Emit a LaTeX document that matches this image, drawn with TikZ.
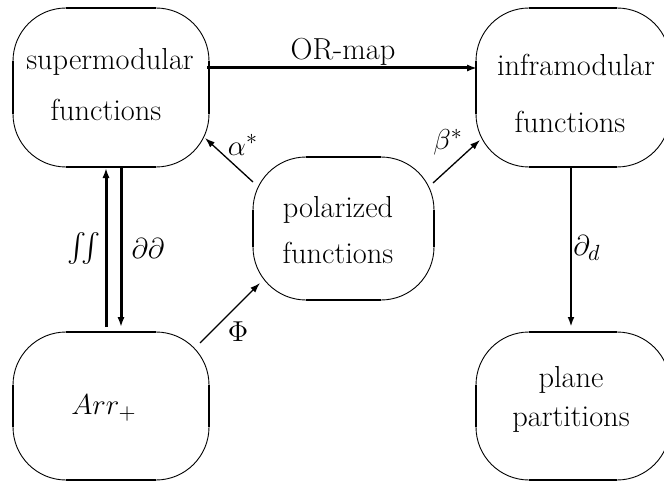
\documentclass[tikz,border=0pt]{standalone}
\usepackage{exscale}
\usetikzlibrary{calc,arrows.meta}
\begin{document}
\begin{tikzpicture}[x=0.5pt,y=-0.5pt,
  box/.style={draw,line width=0.45pt,rounded corners=26.5pt,inner sep=0pt,outer sep=0pt},
  lbl/.style={inner sep=0pt,font=\fontsize{15.2}{18}\selectfont},
  thickarr/.style={line width=1.5pt,-{Latex[length=5pt,width=3.6pt]}},
  midarr/.style={line width=1pt,-{Latex[length=5pt,width=3.4pt]}},
  thinarr/.style={line width=0.65pt,-{Latex[length=5pt,width=3.4pt]}},
  edge/.style={line width=1pt}
]
\useasboundingbox (0,0) rectangle (664,481);
% boxes
\node[box,minimum width=98pt,minimum height=79.5pt] (sup) at (111,87.5) {};
\node[box,minimum width=97pt,minimum height=79.5pt] (inf) at (573,87.5) {};
\node[box,minimum width=90.5pt,minimum height=71.5pt] (pol) at (343.5,228.5) {};
\node[box,minimum width=98pt,minimum height=74pt] (arr) at (111,406) {};
\node[box,minimum width=97pt,minimum height=74pt] (pla) at (573,406) {};
\foreach \n in {sup,inf,pol,arr,pla}{
  \draw[edge] ([xshift=26.5pt]\n.north west) -- ([xshift=-26.5pt]\n.north east);
  \draw[edge] ([xshift=26.5pt]\n.south west) -- ([xshift=-26.5pt]\n.south east);
  \draw[edge] ([yshift=-26.5pt]\n.north west) -- ([yshift=26.5pt]\n.south west);
  \draw[edge] ([yshift=-26.5pt]\n.north east) -- ([yshift=26.5pt]\n.south east);
}
% texts
\node[lbl] (sup1) at (110,62) {supermodular};
\node[lbl] (sup2) at (106,110) {functions};
\node[lbl] (inf1) at (576,65) {inframodular};
\node[lbl] (inf2) at (570,122) {functions};
\node[lbl] (pol1) at (338,210) {polarized};
\node[lbl] (pol2) at (338,253) {functions};
\node[lbl] (arr1) at (104,408) {$Arr_+$};
\node[lbl] (pla1) at (571,380) {plane};
\node[lbl] (pla2) at (571,420) {partitions};
% connectors
\draw[thickarr] ($(sup.east)+(-2,-19.5)$) -- ($(inf.west)+(1,-19.5)$);
\node[lbl] (orlbl) at (343,52) {OR-map};
\draw[thinarr] ($(pol.west)+(0,-46.5)$) -- ($(sup.east)+(-4,50.5)$);
\node[lbl] (alpha) at (243,145) {$\alpha^*$};
\draw[thinarr] ($(pol.east)+(-1,-45.5)$) -- ($(inf.west)+(4,52.5)$);
\node[lbl] (beta) at (448,142) {$\beta^*$};
\draw[thinarr] ($(arr.east)+(-9,-63)$) -- ($(pol.west)+(7,54.5)$);
\node[lbl] (phi) at (238,332) {$\Phi$};
\draw[thickarr] ($(arr.north)+(-5,-5)$) -- ($(sup.south)+(-5,1)$);
\draw[thickarr] ($(sup.south)+(10,1)$) -- ($(arr.north)+(10,-5)$);
\node[lbl] (intint) at (84,248) {$\int\!\!\int$};
\node[lbl] (dd) at (148,248) {$\partial\partial$};
\draw[midarr] ($(inf.south)+(-2,0)$) -- ($(pla.north)+(-2,-5)$);
\node[lbl] (dsub) at (587,248) {$\partial_d$};
\end{tikzpicture}
\end{document}
